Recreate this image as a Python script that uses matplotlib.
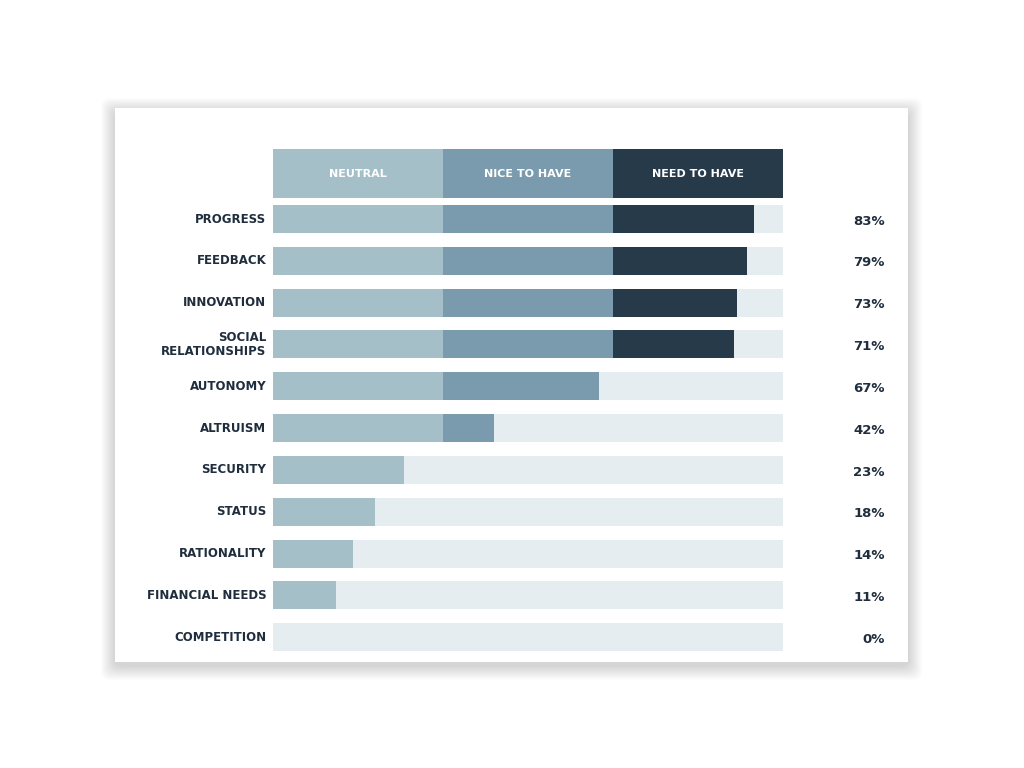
import matplotlib
matplotlib.use("Agg")
import matplotlib.pyplot as plt
from matplotlib.patches import Rectangle, FancyBboxPatch

categories = ["PROGRESS", "FEEDBACK", "INNOVATION", "SOCIAL\nRELATIONSHIPS", "AUTONOMY",
              "ALTRUISM", "SECURITY", "STATUS", "RATIONALITY", "FINANCIAL NEEDS", "COMPETITION"]
pct_labels = ["83%", "79%", "73%", "71%", "67%", "42%", "23%", "18%", "14%", "11%", "0%"]
# bar extent on a 0-3 scale (neutral 0-1, nice to have 1-2, need to have 2-3)
bar_ends = [2.83, 2.79, 2.73, 2.71, 1.92, 1.30, 0.77, 0.60, 0.47, 0.37, 0.0]
segments = ["NEUTRAL", "NICE TO HAVE", "NEED TO HAVE"]
seg_colors = ["#a4bfc7", "#7a9aad", "#263a4a"]
track_color = "#e6edf0"
text_color = "#1f2d3d"

fig = plt.figure(figsize=(10.24, 7.68), dpi=100)
fig.patch.set_facecolor("white")
W, H = 1024, 768
# card shadow
for i in range(14, 0, -1):
    fig.patches.append(FancyBboxPatch(((115 - i) / W, (768 - 662 - i - 4) / H),
                                      (793 + 2 * i) / W, (554 + 2 * i) / H,
                                      boxstyle="round,pad=0,rounding_size=0.01",
                                      transform=fig.transFigure, facecolor="black",
                                      alpha=0.012, edgecolor="none", zorder=0))
fig.patches.append(Rectangle((115 / W, (768 - 662) / H), 793 / W, 554 / H,
                             transform=fig.transFigure, facecolor="white",
                             edgecolor="none", zorder=1))

ax = fig.add_axes([273 / W, 1 - 651 / H, 510 / W, 502 / H], zorder=2)
ax.set_facecolor("none")
ax.set_xlim(0, 3)
ax.set_ylim(10.33, -1.675)
ax.axis("off")

h = 0.67
# header
for j, (s, c) in enumerate(zip(segments, seg_colors)):
    ax.barh(-1.0885, 1, left=j, height=1.173, color=c)
    ax.text(j + 0.5, -1.0885, s, ha="center", va="center", color="white",
            fontsize=8, fontweight="bold")

for i, (cat, end, pl) in enumerate(zip(categories, bar_ends, pct_labels)):
    ax.barh(i, 3, left=0, height=h, color=track_color)
    for j in range(3):
        seg = min(max(end - j, 0), 1)
        if seg > 0:
            ax.barh(i, seg, left=j, height=h, color=seg_colors[j])
    ax.text(-0.04, i, cat, ha="right", va="center", color=text_color,
            fontsize=8.5, fontweight="bold", linespacing=1.1)
    ax.text(3.6, i + 0.05, pl, ha="right", va="center", color=text_color,
            fontsize=9.5, fontweight="bold")

fig.savefig("out.png", dpi=100)
